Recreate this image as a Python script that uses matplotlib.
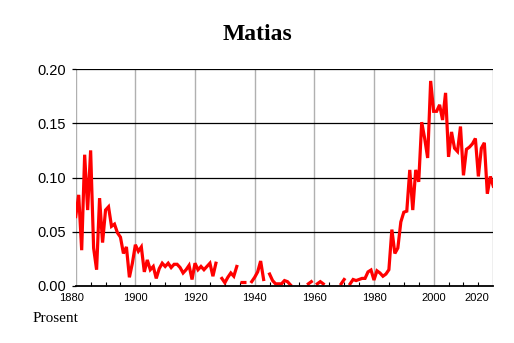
import numpy as np
import matplotlib
matplotlib.use("Agg")
import matplotlib.pyplot as plt
from matplotlib.transforms import ScaledTranslation

nan = np.nan

years = np.arange(1880, 2021)

# percent of newborns given the name, by year (nan = no data)
share_1880s = [0.064, 0.084, 0.033, 0.121, 0.070, 0.125, 0.035, 0.015, 0.081, 0.040]
share_1890s = [0.070, 0.073, 0.055, 0.057, 0.049, 0.045, 0.030, 0.036, 0.008, 0.021]
share_1900s = [0.038, 0.032, 0.036, 0.013, 0.024, 0.015, 0.018, 0.007, 0.016, 0.021]
share_1910s = [0.018, 0.021, 0.017, 0.020, 0.020, 0.017, 0.012, 0.015, 0.019, 0.006]
share_1920s = [0.021, 0.015, 0.018, 0.015, 0.018, 0.021, 0.009, 0.021, nan, 0.007]
share_1930s = [0.003, 0.008, 0.012, 0.009, 0.018, nan, 0.004, nan, nan, 0.004]
share_1940s = [0.008, 0.013, 0.023, 0.006, nan, 0.011, 0.005, 0.002, 0.002, 0.002]
share_1950s = [0.005, 0.004, 0.001, nan, nan, nan, nan, nan, 0.002, 0.004]
share_1960s = [nan, 0.002, 0.004, 0.002, nan, nan, nan, nan, nan, 0.002]
share_1970s = [0.006, nan, 0.002, 0.006, 0.005, 0.006, 0.007, 0.007, 0.013, 0.0147]
share_1980s = [0.0055, 0.014, 0.012, 0.009, 0.011, 0.015, 0.052, 0.030, 0.035, 0.059]
share_1990s = [0.068, 0.069, 0.107, 0.070, 0.107, 0.096, 0.151, 0.136, 0.118, 0.189]
share_2000s = [0.161, 0.161, 0.167, 0.153, 0.178, 0.119, 0.142, 0.127, 0.124, 0.147]
share_2010s = [0.102, 0.126, 0.128, 0.131, 0.136, 0.101, 0.127, 0.132, 0.085, 0.101]
share_2020s = [0.092]

share = np.array(share_1880s + share_1890s + share_1900s + share_1910s + share_1920s
                 + share_1930s + share_1940s + share_1950s + share_1960s + share_1970s
                 + share_1980s + share_1990s + share_2000s + share_2010s + share_2020s)

x_ticks = [1880, 1900, 1920, 1940, 1960, 1980, 2000, 2020]
y_ticks = [0.00, 0.05, 0.10, 0.15, 0.20]

fig = plt.figure(figsize=(5.14, 3.43), dpi=100)
ax = fig.add_axes([0.1473, 0.1662, 0.8124, 0.6326])

ax.plot(years, share, color="#ff0000", lw=2.3, solid_joinstyle="miter", zorder=3)

# single years with empty neighbours get a short dash
valid = ~np.isnan(share)
prev_ok = np.r_[False, valid[:-1]]
next_ok = np.r_[valid[1:], False]
lonely = valid & ~prev_ok & ~next_ok
ax.plot(years[lonely], share[lonely], ls="none", marker="_", ms=4, mew=2.3,
        color="#ff0000", zorder=3)

ax.set_xlim(1880, 2020)
ax.set_ylim(0, 0.20)

for xv in x_ticks:
    ax.axvline(xv, color="#b0b0b0", lw=1.0, zorder=1)
for yv in y_ticks[1:]:
    ax.axhline(yv, color="black", lw=0.9, zorder=2)

for s in ["left", "right", "top"]:
    ax.spines[s].set_visible(False)
ax.spines["bottom"].set_linewidth(1.3)
ax.spines["bottom"].set_zorder(4)

ax.set_yticks(y_ticks)
ax.set_yticklabels(["%.2f" % v for v in y_ticks], family="Liberation Sans", fontsize=10.5)
ax.tick_params(axis="y", direction="out", length=3, width=0.9, pad=4)

ax.set_xticks(x_ticks)
ax.set_xticklabels([str(v) for v in x_ticks], family="Liberation Sans", fontsize=8)
ax.set_xticks(np.arange(1885, 2020, 5), minor=True)
ax.tick_params(axis="x", which="major", length=0, pad=5)
ax.tick_params(axis="x", which="minor", direction="in", length=3, width=0.8)

labels = ax.get_xticklabels()
labels[0].set_transform(labels[0].get_transform() + ScaledTranslation(-0.04, 0, fig.dpi_scale_trans))
labels[-1].set_horizontalalignment("right")
labels[-1].set_transform(labels[-1].get_transform() + ScaledTranslation(-0.04, 0, fig.dpi_scale_trans))

fig.text(0.5, 1 - 35 / 343, "Matias", ha="center", va="center",
         family="Liberation Serif", fontweight="bold", fontsize=17)
fig.text(33 / 514, 1 - 318 / 343, "Prosent", ha="left", va="center",
         family="Liberation Serif", fontsize=11)

fig.savefig("out.png", dpi=100)
